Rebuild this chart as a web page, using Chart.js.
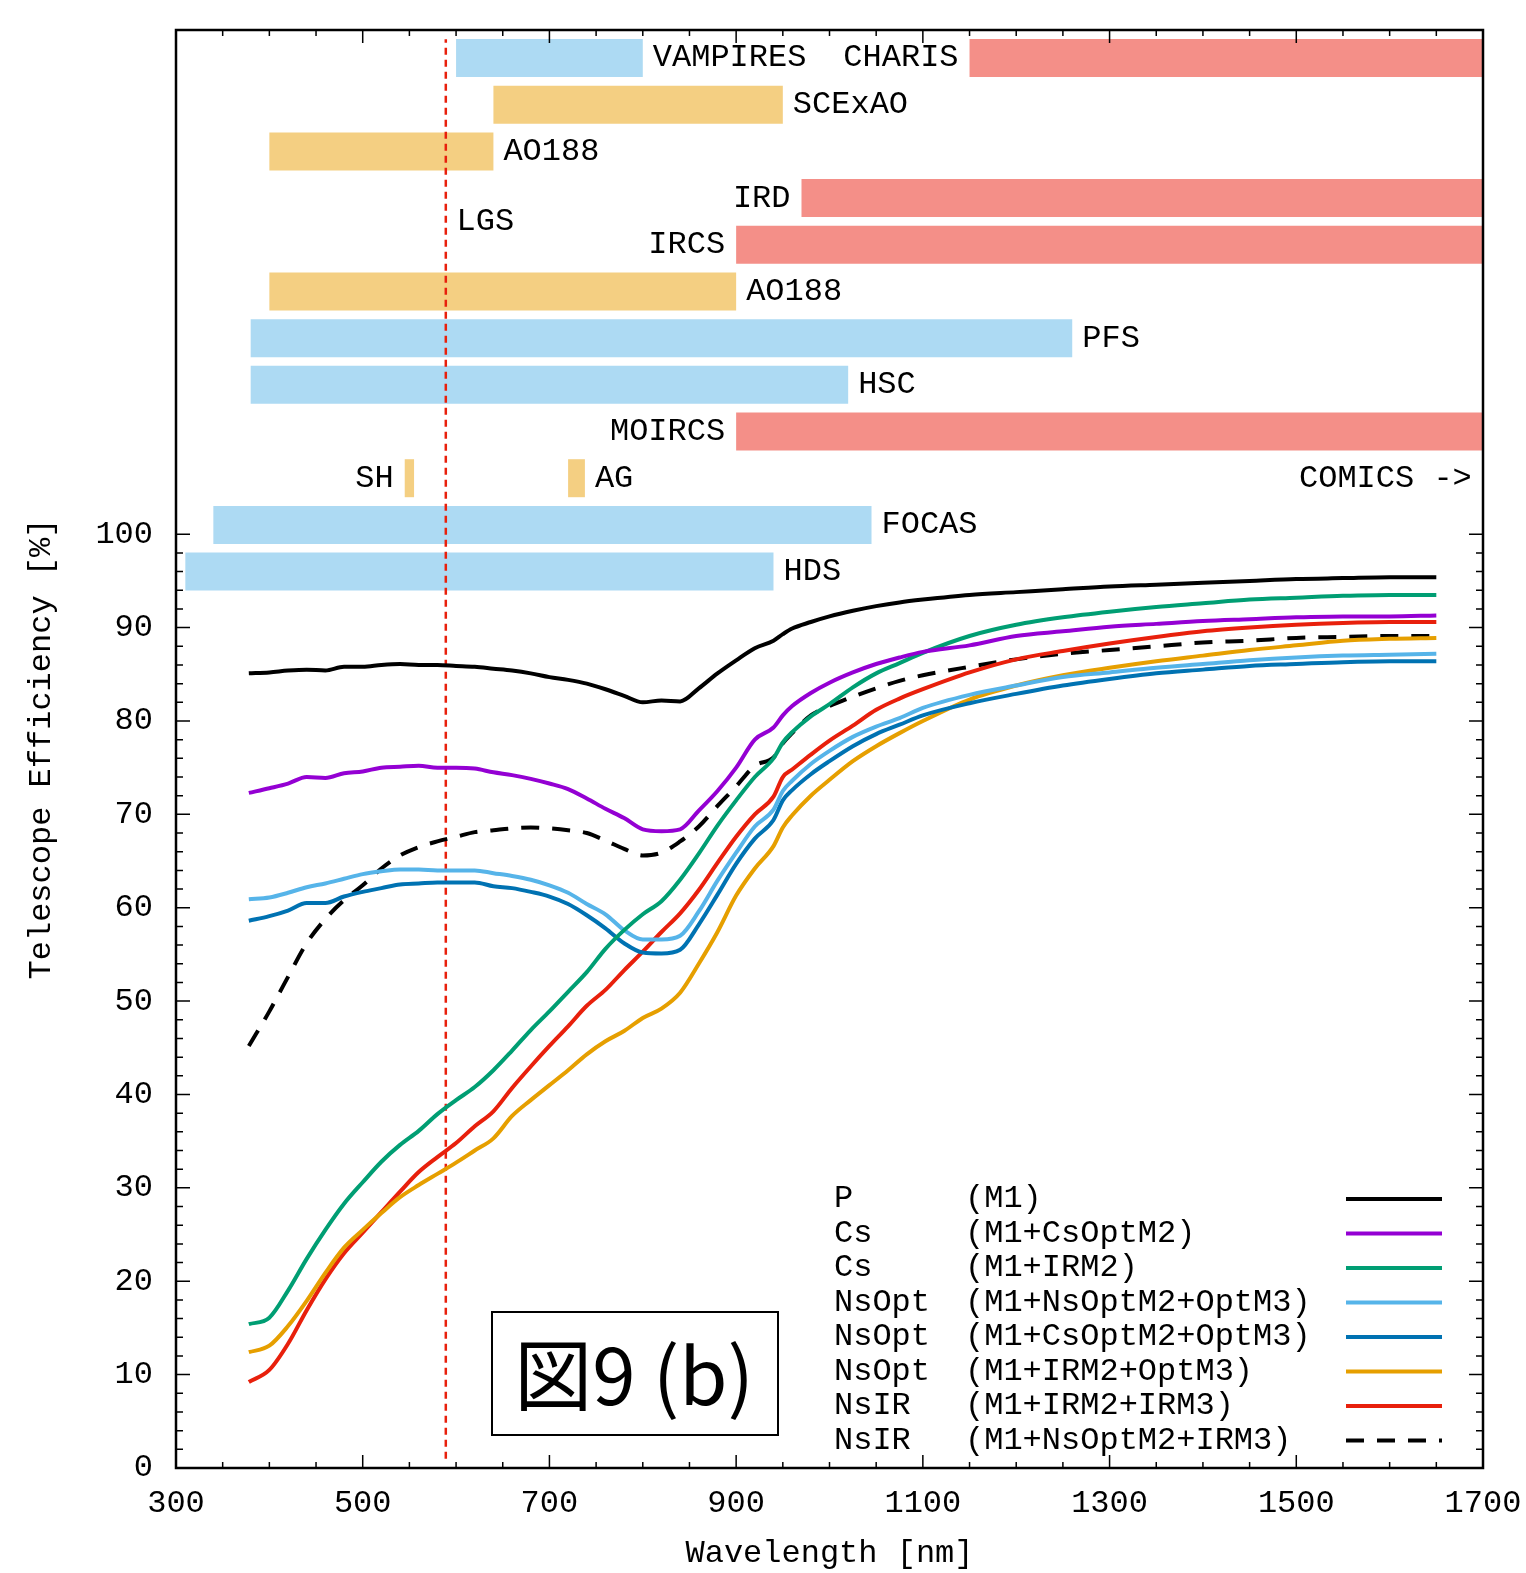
<!DOCTYPE html>
<html>
<head>
<meta charset="utf-8">
<script src="https://cdn.jsdelivr.net/npm/chart.js@4.4.0/dist/chart.umd.min.js"></script>
<style>
  html, body { margin: 0; padding: 0; background: #fff; }
</style>
</head>
<body>
<canvas id="eff" width="1526" height="1573"></canvas>
<script>
// 波長 [nm]
const wavelength = [378, 400, 420, 440, 460, 480, 500, 520, 540, 560, 580, 600, 620, 640, 660, 680, 700, 720, 740, 760,
  780, 800, 820, 840, 860, 880, 900, 920, 940, 950, 960, 980, 1000, 1025, 1050, 1075, 1100, 1150, 1200, 1250,
  1300, 1350, 1400, 1450, 1500, 1550, 1600, 1650];

// 効率 [%]
const effP = [85.1, 85.2, 85.4, 85.5, 85.4, 85.8, 85.8, 86.0, 86.1, 86.0, 86.0, 85.9, 85.8, 85.6, 85.4, 85.1, 84.7, 84.4, 84.0, 83.4,
  82.7, 82.0, 82.2, 82.1, 83.5, 85.1, 86.5, 87.8, 88.6, 89.3, 89.9, 90.6, 91.2, 91.8, 92.3, 92.7, 93.0, 93.5, 93.8, 94.1,
  94.4, 94.6, 94.8, 95.0, 95.2, 95.3, 95.4, 95.4];
const effCsOpt = [72.3, 72.8, 73.3, 74.0, 73.9, 74.4, 74.6, 75.0, 75.1, 75.2, 75.0, 75.0, 74.9, 74.5, 74.2, 73.8, 73.3, 72.7, 71.7, 70.6,
  69.6, 68.4, 68.2, 68.4, 70.4, 72.5, 75.0, 78.0, 79.3, 80.6, 81.6, 83.0, 84.1, 85.2, 86.1, 86.8, 87.4, 88.1, 89.1, 89.6,
  90.1, 90.4, 90.7, 90.9, 91.1, 91.2, 91.2, 91.3];
const effCsIR = [15.4, 16.1, 19.0, 22.4, 25.5, 28.3, 30.6, 32.8, 34.6, 36.1, 37.9, 39.4, 40.8, 42.6, 44.7, 46.9, 48.9, 51.0, 53.1, 55.6,
  57.6, 59.3, 60.7, 63.0, 65.8, 68.8, 71.5, 74.0, 76.0, 77.7, 78.8, 80.5, 81.8, 83.6, 85.1, 86.2, 87.3, 89.1, 90.3, 91.1,
  91.7, 92.2, 92.6, 93.0, 93.2, 93.4, 93.5, 93.5];
const effNsOptNs = [60.9, 61.1, 61.6, 62.2, 62.6, 63.1, 63.6, 63.9, 64.1, 64.1, 64.0, 64.0, 64.0, 63.7, 63.4, 63.0, 62.4, 61.6, 60.4, 59.3,
  57.6, 56.6, 56.6, 57.0, 59.6, 62.9, 65.9, 68.7, 70.5, 72.5, 73.6, 75.4, 76.8, 78.3, 79.4, 80.3, 81.4, 82.8, 83.8, 84.7,
  85.2, 85.7, 86.1, 86.5, 86.8, 87.0, 87.1, 87.2];
const effNsOptCs = [58.6, 59.1, 59.7, 60.5, 60.5, 61.2, 61.7, 62.1, 62.5, 62.6, 62.7, 62.7, 62.7, 62.3, 62.1, 61.7, 61.2, 60.4, 59.2, 57.8,
  56.2, 55.2, 55.1, 55.5, 58.2, 61.4, 64.7, 67.4, 69.4, 71.5, 72.6, 74.3, 75.7, 77.3, 78.6, 79.6, 80.6, 81.9, 82.9, 83.8,
  84.5, 85.1, 85.5, 85.9, 86.1, 86.3, 86.4, 86.4];
const effNsOptIR = [12.4, 13.1, 15.2, 17.9, 20.9, 23.6, 25.5, 27.3, 29.0, 30.3, 31.5, 32.7, 34.0, 35.3, 37.7, 39.4, 41.0, 42.6, 44.3, 45.7,
  46.8, 48.2, 49.2, 50.9, 54.0, 57.4, 61.3, 64.2, 66.6, 68.6, 69.9, 72.0, 73.7, 75.7, 77.3, 78.7, 80.0, 82.3, 83.8, 84.9,
  85.7, 86.4, 87.0, 87.6, 88.1, 88.6, 88.8, 88.9];
const effNsIR = [9.2, 10.5, 13.3, 16.9, 20.2, 23.0, 25.2, 27.4, 29.6, 31.7, 33.3, 34.8, 36.6, 38.2, 40.7, 43.0, 45.2, 47.3, 49.5, 51.2,
  53.3, 55.3, 57.4, 59.4, 61.9, 64.8, 67.6, 70.0, 71.9, 74.0, 74.8, 76.4, 77.9, 79.5, 81.2, 82.4, 83.4, 85.2, 86.6, 87.5,
  88.3, 89.0, 89.6, 90.0, 90.3, 90.5, 90.6, 90.6];
const effNsIRNs = [45.2, 48.9, 52.6, 56.2, 58.8, 60.8, 62.4, 64.2, 65.6, 66.5, 67.1, 67.6, 68.1, 68.3, 68.5, 68.6, 68.5, 68.3, 68.0, 67.2,
  66.3, 65.6, 65.9, 67.1, 68.7, 70.9, 73.0, 75.2, 76.1, 77.6, 78.7, 80.6, 81.6, 82.6, 83.5, 84.3, 84.9, 85.8, 86.6, 87.2,
  87.6, 88.0, 88.4, 88.6, 88.9, 89.0, 89.1, 89.1];

const seriesName = ['P', 'Cs', 'Cs', 'NsOpt', 'NsOpt', 'NsOpt', 'NsIR', 'NsIR'];
const seriesMirrors = ['(M1)', '(M1+CsOptM2)', '(M1+IRM2)', '(M1+NsOptM2+OptM3)', '(M1+CsOptM2+OptM3)',
  '(M1+IRM2+OptM3)', '(M1+IRM2+IRM3)', '(M1+NsOptM2+IRM3)'];
const seriesValues = [effP, effCsOpt, effCsIR, effNsOptNs, effNsOptCs, effNsOptIR, effNsIR, effNsIRNs];

// 観測装置の波長範囲
const instName  = ['VAMPIRES', 'CHARIS', 'SCExAO', 'AO188', 'IRD', 'IRCS', 'AO188', 'PFS', 'HSC', 'MOIRCS', 'SH', 'AG', 'FOCAS', 'HDS'];
const instStart = [600, 1150, 640, 400, 970, 900, 400, 380, 380, 900, 545, 720, 340, 310];
const instEnd   = [800, 1700, 950, 640, 1700, 1700, 900, 1260, 1020, 1700, 555, 738, 1045, 940];
const instRow   = [151, 151, 146, 141, 136, 131, 126, 121, 116, 111, 106, 106, 101, 96];
const instKind  = ['opt', 'ir', 'ao', 'ao', 'ir', 'ir', 'ao', 'opt', 'opt', 'ir', 'ao', 'ao', 'opt', 'opt'];
const instSide  = ['right', 'left', 'right', 'right', 'left', 'left', 'right', 'right', 'right', 'left', 'left', 'right', 'right', 'right'];

const lgsWavelength = 589;
const xLabels = [300, 500, 700, 900, 1100, 1300, 1500, 1700];
const yLabels = [0, 10, 20, 30, 40, 50, 60, 70, 80, 90, 100];

const lineColors = ['#000000', '#9400D3', '#009E73', '#56B4E9', '#0072B2', '#E69F00', '#E8200C', '#000000'];
const barColors = { opt: '#ADDAF3', ao: '#F4CF82', ir: '#F48F88' };
const FONT = '"Liberation Mono", "DejaVu Sans Mono", monospace';

const datasets = [];
seriesValues.forEach((vals, i) => {
  datasets.push({
    type: 'line',
    data: wavelength.map((w, k) => ({ x: w, y: vals[k] })),
    borderColor: lineColors[i],
    borderWidth: 4,
    borderDash: i === 7 ? [18, 13] : [],
    pointRadius: 0,
    cubicInterpolationMode: 'monotone',
    order: 1
  });
});
datasets.push({
  type: 'line',
  data: [{ x: lgsWavelength, y: 1 }, { x: lgsWavelength, y: 153 }],
  borderColor: '#E8200C',
  borderWidth: 2.5,
  borderDash: [7, 5],
  pointRadius: 0,
  order: 2
});
instName.forEach((n, i) => {
  datasets.push({
    type: 'line',
    data: [{ x: instStart[i], y: instRow[i] }, { x: instEnd[i], y: instRow[i] }],
    borderColor: barColors[instKind[i]],
    borderWidth: 38,
    borderCapStyle: 'butt',
    pointRadius: 0,
    order: 3
  });
});

// 枠と内向きの目盛り
const frame = {
  id: 'frame',
  afterDatasetsDraw(chart) {
    const { ctx, chartArea: a, scales: { x, y } } = chart;
    ctx.save();
    ctx.strokeStyle = '#000';
    ctx.lineWidth = 1.5;
    ctx.beginPath();
    for (let v = 300; v <= 1700; v += 50) {
      const px = x.getPixelForValue(v);
      const len = xLabels.includes(v) ? 13 : 6;
      ctx.moveTo(px, a.bottom); ctx.lineTo(px, a.bottom - len);
      ctx.moveTo(px, a.top); ctx.lineTo(px, a.top + len);
    }
    for (let v = 0; v <= 100; v += 2) {
      const py = y.getPixelForValue(v);
      const len = yLabels.includes(v) ? 14 : 7;
      ctx.moveTo(a.left, py); ctx.lineTo(a.left + len, py);
      ctx.moveTo(a.right, py); ctx.lineTo(a.right - len, py);
    }
    ctx.stroke();
    ctx.lineWidth = 2.5;
    ctx.strokeRect(a.left, a.top, a.right - a.left, a.bottom - a.top);
    ctx.restore();
  }
};

// 装置名・凡例・図番号
const labels = {
  id: 'labels',
  afterDraw(chart) {
    const { ctx, scales: { x, y } } = chart;
    ctx.save();
    ctx.fillStyle = '#000';
    ctx.font = '32px ' + FONT;
    ctx.textBaseline = 'middle';
    instName.forEach((n, i) => {
      const py = y.getPixelForValue(instRow[i]);
      if (instSide[i] === 'right') {
        ctx.textAlign = 'left';
        ctx.fillText(n, x.getPixelForValue(instEnd[i]) + 10, py);
      } else {
        ctx.textAlign = 'right';
        ctx.fillText(n, x.getPixelForValue(instStart[i]) - 11, py);
      }
    });
    ctx.textAlign = 'left';
    ctx.fillText('LGS', x.getPixelForValue(600.5), y.getPixelForValue(133.5));
    ctx.textAlign = 'right';
    ctx.fillText('COMICS ->', x.getPixelForValue(1688), y.getPixelForValue(106));

    // 凡例
    chart.data.datasets.slice(0, seriesName.length).forEach((ds, i) => {
      const py = 1199 + i * 34.5;
      ctx.textAlign = 'left';
      ctx.fillStyle = '#000';
      ctx.fillText(seriesName[i], 834, py);
      ctx.fillText(seriesMirrors[i], 965, py);
      ctx.strokeStyle = ds.borderColor;
      ctx.lineWidth = 4;
      ctx.setLineDash(ds.borderDash);
      ctx.beginPath();
      ctx.moveTo(1346, py);
      ctx.lineTo(1442, py);
      ctx.stroke();
      ctx.setLineDash([]);
    });

    // 図9 (b)
    ctx.strokeStyle = '#000';
    ctx.lineWidth = 2;
    ctx.strokeRect(492, 1312, 286, 123);
    ctx.font = '78px "Noto Sans CJK JP", "Noto Sans", sans-serif';
    ctx.textAlign = 'center';
    ctx.fillText('図9 (b)', 634, 1375);
    ctx.restore();
  }
};

new Chart(document.getElementById('eff'), {
  data: { datasets },
  plugins: [frame, labels],
  options: {
    responsive: false,
    animation: false,
    layout: { padding: { top: 30, right: 43, left: 0, bottom: 0 } },
    plugins: { legend: { display: false }, tooltip: { enabled: false } },
    scales: {
      x: {
        type: 'linear', min: 300, max: 1700,
        grid: { display: false, drawTicks: false },
        border: { display: false },
        ticks: {
          stepSize: 200, padding: 16, color: '#000', font: { family: FONT, size: 32 },
          callback: v => xLabels.includes(v) ? String(v) : ''
        },
        title: { display: true, text: 'Wavelength [nm]', color: '#000', font: { family: FONT, size: 32 }, padding: { top: 0, bottom: 0 } },
        afterFit: s => { s.height = 105; s.paddingLeft = 0; s.paddingRight = 0; }
      },
      y: {
        type: 'linear', min: 0, max: 154,
        grid: { display: false, drawTicks: false },
        border: { display: false },
        ticks: {
          stepSize: 10, padding: 23, color: '#000', font: { family: FONT, size: 32 },
          callback: v => yLabels.includes(v) ? String(v) : ''
        },
        title: { display: true, text: 'Telescope Efficiency [%]', color: '#000', font: { family: FONT, size: 32 }, padding: { top: 22, bottom: 0 } },
        afterFit: s => { s.width = 176; s.paddingTop = 0; s.paddingBottom = 0; }
      }
    }
  }
});
</script>
</body>
</html>
